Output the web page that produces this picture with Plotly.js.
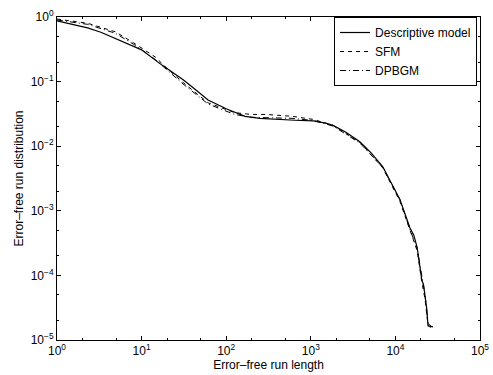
<!DOCTYPE html>
<html>
<head>
<meta charset="utf-8">
<script src="https://cdn.plot.ly/plotly-3.0.1.min.js"></script>
<style>html,body{margin:0;padding:0;background:#fff;}#chart{width:493px;height:375px;}</style>
</head>
<body>
<div id="chart"></div>
<script>
// Descriptive model (solid)
const descX = [1, 1.5, 2.3, 3.3, 4.9, 7, 10, 17.4, 31, 45, 61, 100, 167, 250, 380, 650, 1070, 1500, 1830, 2600, 3800, 5200, 7100, 9000, 11300, 14800, 16500, 18100, 19500, 20500, 21500, 22400, 23500, 24300, 27800];
const descY = [0.87, 0.78, 0.68, 0.58, 0.46, 0.38, 0.31, 0.18, 0.107, 0.072, 0.052, 0.038, 0.029, 0.027, 0.026, 0.0252, 0.0246, 0.0228, 0.021, 0.0165, 0.0117, 0.0078, 0.0048, 0.0027, 0.0015, 0.00055, 0.00042, 0.00027, 0.00014, 0.000085, 0.000072, 0.000047, 0.000030, 0.0000166, 0.000016];
// SFM (dashed)
const sfmX = [1, 2.3, 4.9, 8, 14.5, 20, 30, 61, 126, 200, 300, 600, 1070, 1830, 3800, 7100, 11300, 14800, 18100, 20500, 22400, 24300, 26000];
const sfmY = [0.93, 0.8, 0.59, 0.4, 0.24, 0.16, 0.1, 0.047, 0.033, 0.031, 0.031, 0.029, 0.026, 0.021, 0.0115, 0.0046, 0.0014, 0.0005, 0.00024, 0.00008, 0.000043, 0.000017, 0.0000155];
// DPBGM (dash-dot)
const dpbX = [1, 2.3, 4.9, 8, 14.5, 20, 30, 61, 126, 200, 300, 600, 1070, 1830, 3800, 7100, 11300, 14800, 18100, 20500, 22400, 24300, 27000];
const dpbY = [0.9, 0.77, 0.56, 0.38, 0.22, 0.15, 0.095, 0.045, 0.031, 0.028, 0.0275, 0.027, 0.025, 0.0205, 0.0112, 0.0047, 0.0015, 0.00052, 0.00026, 0.00009, 0.00005, 0.000018, 0.000016];

// Tick labels
const xTickVals = [1, 10, 100, 1000, 10000, 100000];
const xTickText = ['10<sup>0</sup>', '10<sup>1</sup>', '10<sup>2</sup>', '10<sup>3</sup>', '10<sup>4</sup>', '10<sup>5</sup>'];
const yTickVals = [1e-5, 1e-4, 1e-3, 1e-2, 1e-1, 1];
const yTickText = ['10<sup>\u22125</sup>', '10<sup>\u22124</sup>', '10<sup>\u22123</sup>', '10<sup>\u22122</sup>', '10<sup>\u22121</sup>', '10<sup>0</sup>'];

const FONT = 'Liberation Sans, Arial, sans-serif';

const traces = [
  {x: descX, y: descY, mode: 'lines', name: 'Descriptive model', line: {color: '#000', width: 1.2, dash: 'solid'}},
  {x: sfmX, y: sfmY, mode: 'lines', name: 'SFM', line: {color: '#000', width: 1, dash: '4px,4px'}},
  {x: dpbX, y: dpbY, mode: 'lines', name: 'DPBGM', line: {color: '#000', width: 1, dash: '6px,3px,1px,3px'}}
];

const axisCommon = {
  type: 'log',
  showgrid: false,
  zeroline: false,
  showline: true,
  mirror: 'ticks',
  linecolor: '#000',
  linewidth: 1,
  ticks: 'inside',
  ticklen: 4,
  tickcolor: '#000',
  tickfont: {family: FONT, size: 12, color: '#000'},
  minor: {ticks: 'inside', ticklen: 2, tickcolor: '#000', showgrid: false}
};

const layout = {
  width: 493, height: 375,
  margin: {l: 57, r: 13, t: 17, b: 35},
  paper_bgcolor: '#fff', plot_bgcolor: '#fff',
  showlegend: true,
  legend: {x: 0.993, xanchor: 'right', y: 1, yanchor: 'top', bordercolor: '#000', borderwidth: 1, bgcolor: '#fff',
           font: {family: FONT, size: 12, color: '#000'}, tracegroupgap: 0, itemwidth: 30},
  xaxis: Object.assign({}, axisCommon, {range: [0, 5], tickvals: xTickVals, ticktext: xTickText,
    title: {text: 'Error\u2013free run length', standoff: 0, font: {family: FONT, size: 12, color: '#000'}}}),
  yaxis: Object.assign({}, axisCommon, {range: [-5, 0], tickvals: yTickVals, ticktext: yTickText,
    title: {text: 'Error\u2013free run distribution', standoff: 4, font: {family: FONT, size: 12, color: '#000'}}})
};

Plotly.newPlot('chart', traces, layout, {staticPlot: true, displayModeBar: false});
</script>
</body>
</html>
